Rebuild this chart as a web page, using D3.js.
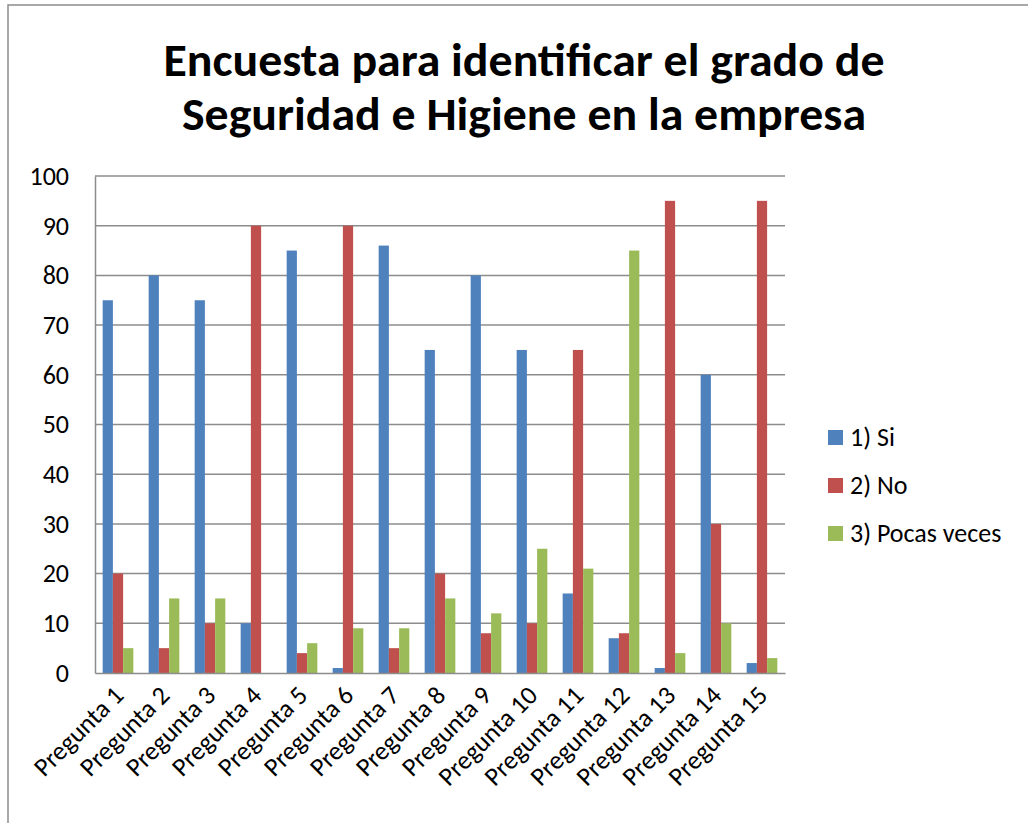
<!DOCTYPE html>
<html lang="es">
    <head>
        <meta charset="utf-8" />
        <title>Encuesta Seguridad e Higiene</title>
        <style>
            body { margin: 0; background: #fff; }
            svg text { font-family: Carlito, "Open Sans", "Noto Sans", sans-serif; fill: #000; }
            .grid line { stroke: #8c8c8c; stroke-width: 1.5; }
            .axis path, .axis line { stroke: #8c8c8c; stroke-width: 1.5; }
        </style>
        <script src="https://cdn.jsdelivr.net/npm/d3@7"></script>
    </head>
    <body>
        <script>
            // data
            var categories = ['Pregunta 1', 'Pregunta 2', 'Pregunta 3', 'Pregunta 4', 'Pregunta 5',
                              'Pregunta 6', 'Pregunta 7', 'Pregunta 8', 'Pregunta 9', 'Pregunta 10',
                              'Pregunta 11', 'Pregunta 12', 'Pregunta 13', 'Pregunta 14', 'Pregunta 15'];
            var seriesNames = ['1) Si', '2) No', '3) Pocas veces'];
            var si     = [75, 80, 75, 10, 85, 1, 86, 65, 80, 65, 16, 7, 1, 60, 2];
            var no     = [20, 5, 10, 90, 4, 90, 5, 20, 8, 10, 65, 8, 95, 30, 95];
            var pocas  = [5, 15, 15, 0, 6, 9, 9, 15, 12, 25, 21, 85, 4, 10, 3];
            var yTicks = [0, 10, 20, 30, 40, 50, 60, 70, 80, 90, 100];
            var colors = ['#4f81bd', '#c0504d', '#9bbb59'];

            var series = [si, no, pocas];

            var width = 1028, height = 823;
            var plot = { left: 95, right: 785, top: 176, bottom: 673 };

            var svg = d3.select('body').append('svg')
                .attr('width', width)
                .attr('height', height);

            // chart border
            svg.append('rect')
                .attr('x', 8).attr('y', 5)
                .attr('width', width + 10).attr('height', height + 10)
                .attr('fill', 'none')
                .attr('stroke', '#8c8c8c')
                .attr('stroke-width', 1.5);

            // title
            var title = svg.append('text')
                .attr('text-anchor', 'middle')
                .style('font-size', '46px')
                .style('font-weight', 'bold');
            title.append('tspan').attr('x', 524).attr('y', 76)
                .attr('textLength', 721).attr('lengthAdjust', 'spacingAndGlyphs')
                .text('Encuesta para identificar el grado de');
            title.append('tspan').attr('x', 524).attr('y', 130)
                .attr('textLength', 684).attr('lengthAdjust', 'spacingAndGlyphs')
                .text('Seguridad e Higiene en la empresa');

            var x0 = d3.scaleBand()
                .domain(categories)
                .range([plot.left, plot.right]);

            // 3 bars + 150% gap per category
            var x1 = d3.scaleBand()
                .domain(d3.range(series.length))
                .range([0, x0.bandwidth()])
                .paddingOuter(0.75);

            var y = d3.scaleLinear()
                .domain([0, 100])
                .range([plot.bottom, plot.top]);

            // gridlines
            svg.append('g').attr('class', 'grid')
                .selectAll('line')
                .data(yTicks.slice(1))
                .enter().append('line')
                .attr('x1', plot.left).attr('x2', plot.right)
                .attr('y1', function(d) { return y(d); })
                .attr('y2', function(d) { return y(d); });

            // bars
            var group = svg.append('g').selectAll('g')
                .data(categories)
                .enter().append('g')
                .attr('transform', function(d) { return 'translate(' + x0(d) + ',0)'; });

            group.selectAll('rect')
                .data(function(d, i) { return series.map(function(s, k) { return { k: k, v: s[i] }; }); })
                .enter().append('rect')
                .attr('x', function(d) { return x1(d.k); })
                .attr('width', x1.bandwidth())
                .attr('y', function(d) { return y(d.v); })
                .attr('height', function(d) { return y(0) - y(d.v); })
                .attr('fill', function(d) { return colors[d.k]; });

            // y axis
            var yAxis = svg.append('g').attr('class', 'axis')
                .attr('transform', 'translate(' + plot.left + ',0)')
                .call(d3.axisLeft(y).tickValues(yTicks).tickSize(0).tickPadding(26));
            yAxis.selectAll('text').style('font-size', '26px');

            // x axis
            var xAxis = svg.append('g').attr('class', 'axis')
                .attr('transform', 'translate(0,' + plot.bottom + ')')
                .call(d3.axisBottom(x0).tickSize(0).tickPadding(0));
            xAxis.selectAll('text')
                .style('font-size', '26px')
                .attr('text-anchor', 'end')
                .attr('y', 0)
                .attr('dy', 0)
                .attr('transform', 'translate(7,24) rotate(-45)');

            // legend
            var legend = svg.append('g').selectAll('g')
                .data(seriesNames)
                .enter().append('g')
                .attr('transform', function(d, i) { return 'translate(828,' + (430 + i * 48) + ')'; });
            legend.append('rect')
                .attr('width', 15).attr('height', 15)
                .attr('fill', function(d, i) { return colors[i]; });
            legend.append('text')
                .attr('x', 22).attr('y', 16)
                .style('font-size', '26px')
                .text(function(d) { return d; });
        </script>
    </body>
</html>
